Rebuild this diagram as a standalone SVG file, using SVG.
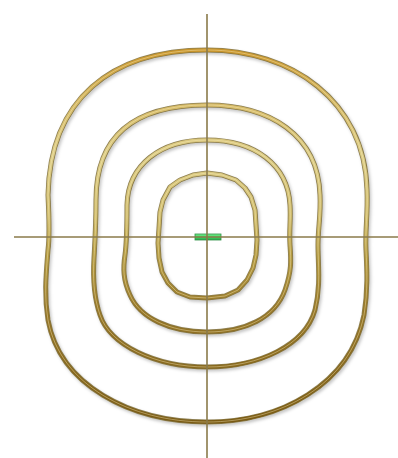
<svg xmlns="http://www.w3.org/2000/svg" width="398" height="458" viewBox="0 0 398 458">
  <style>
    .edge { fill: none; stroke: #6a5518; stroke-opacity: 0.75; stroke-width: 5; stroke-linejoin: round; filter: url(#shadow); }
    .ring { fill: none; stroke: url(#gold); stroke-width: 3.4; stroke-linejoin: round; }
    .hl { fill: none; stroke: #fff4c8; stroke-width: 1; stroke-opacity: 0.4; stroke-linejoin: round; }
    .axis { stroke: #8a7a4a; stroke-width: 1.6; fill: none; }
  </style>
  <defs>
    <linearGradient id="gold" gradientUnits="userSpaceOnUse" x1="0" y1="50" x2="0" y2="422">
      <stop offset="0" stop-color="#c8942a"/>
      <stop offset="0.12" stop-color="#d4b660"/>
      <stop offset="0.28" stop-color="#dccc86"/>
      <stop offset="0.45" stop-color="#d0bc6c"/>
      <stop offset="0.55" stop-color="#b49a40"/>
      <stop offset="0.7" stop-color="#967626"/>
      <stop offset="1" stop-color="#7a5a12"/>
    </linearGradient>
    <linearGradient id="green" x1="0" y1="0" x2="0" y2="1">
      <stop offset="0" stop-color="#7af08e"/>
      <stop offset="0.5" stop-color="#3fd864"/>
      <stop offset="1" stop-color="#2aa648"/>
    </linearGradient>
    <filter id="shadow" x="-10%" y="-10%" width="120%" height="120%">
      <feDropShadow dx="1.5" dy="2" stdDeviation="1.5" flood-color="#000" flood-opacity="0.3"/>
    </filter>
    <path id="p1" d="M207,50 C290,50 365,100 367,190 C368,215 365,230 366,250 C367,270 368,290 364,315 C350,385 280,422 207,422 C130,422 60,385 48,320 C44,295 46,275 48,250 C50,235 49,215 48,195 C50,100 110,50 207,50 Z"/>
    <path id="p2" d="M207,105 C270,105 318,135 320,195 C321,215 318,228 318,245 C318,265 321,285 315,310 C305,345 260,367 207,367 C155,367 110,345 100,315 C93,295 93,275 94,258 C95,240 96,225 96,200 C96,135 135,105 207,105 Z"/>
    <path id="p3" d="M207,140 C255,140 288,165 290,205 C291,220 289,230 290,245 C291,260 292,270 285,290 C275,318 245,332 207,332 C170,332 140,318 130,295 C123,280 123,268 125,255 C127,240 127,225 127,205 C128,165 160,140 207,140 Z"/>
    <path id="p4" d="M207,173 L222,175 L236,180 L245,188 L251,197 L255,210 L256,225 L257,240 L256,255 L253,268 L247,280 L238,290 L225,296 L207,298 L190,297 L177,292 L168,283 L162,272 L159,258 L158,243 L159,228 L160,212 L163,200 L170,187 L180,180 L193,175 Z"/>
  </defs>

  <g id="ring1">
    <use href="#p1" class="edge"/>
    <use href="#p1" class="ring"/>
    <use href="#p1" class="hl"/>
  </g>
  <g id="ring2">
    <use href="#p2" class="edge"/>
    <use href="#p2" class="ring"/>
    <use href="#p2" class="hl"/>
  </g>
  <g id="ring3">
    <use href="#p3" class="edge"/>
    <use href="#p3" class="ring"/>
    <use href="#p3" class="hl"/>
  </g>
  <g id="ring4">
    <use href="#p4" class="edge"/>
    <use href="#p4" class="ring"/>
    <use href="#p4" class="hl"/>
  </g>

  <g id="marker">
    <rect x="195" y="234" width="26" height="6" fill="url(#green)" stroke="#2f8f45" stroke-width="0.8"/>
  </g>

  <g id="axes">
    <line class="axis" x1="14" y1="237" x2="398" y2="237"/>
    <line class="axis" x1="207" y1="14" x2="207" y2="458"/>
  </g>
</svg>
